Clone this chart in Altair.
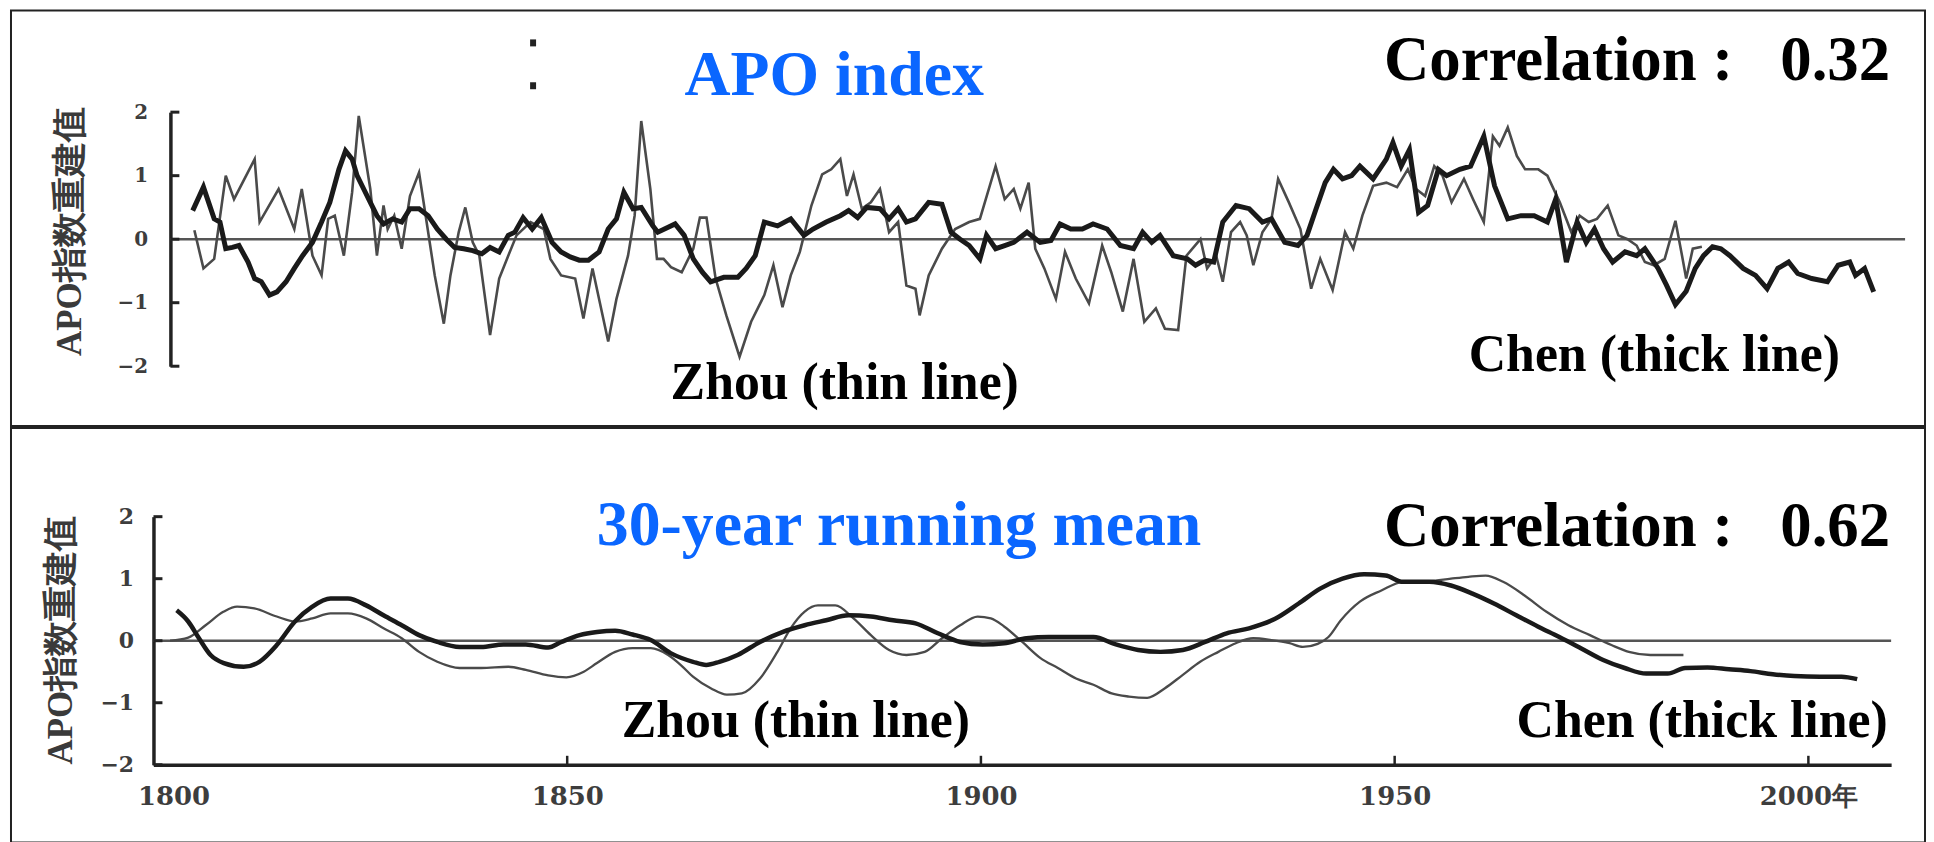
import altair as alt
import pandas as pd

# ---------------- data ----------------
# Top panel: annual APO index reconstructions
top_chen_year = [1802.7, 1804.0, 1805.3, 1806.0, 1806.7, 1807.5, 1808.3, 1809.4, 1810.2, 1811.0, 1812.0, 1812.9,
                 1814.0, 1815.0, 1816.0, 1817.2, 1818.3, 1819.3, 1820.4, 1821.2, 1822.0, 1822.6, 1823.4, 1824.2,
                 1825.0, 1825.8, 1826.9, 1828.0, 1829.0, 1830.1, 1831.2, 1832.3, 1833.4, 1834.4, 1835.5, 1836.6,
                 1837.7, 1838.7, 1839.8, 1840.9, 1841.7, 1842.7, 1843.8, 1844.9, 1846.2, 1847.3, 1848.4, 1849.5,
                 1850.6, 1851.9, 1853.0, 1854.0, 1854.9, 1856.0, 1857.0, 1858.4, 1859.0, 1861.1, 1862.2, 1863.3,
                 1864.4, 1865.4, 1867.0, 1868.7, 1869.7, 1870.8, 1871.9, 1873.5, 1875.1, 1876.7, 1877.8, 1879.4,
                 1881.1, 1882.1, 1883.2, 1884.3, 1885.9, 1887.0, 1888.1, 1889.1, 1890.2, 1891.8, 1893.4, 1894.5,
                 1895.6, 1896.7, 1898.0, 1898.8, 1899.9, 1901.0, 1902.1, 1903.7, 1905.3, 1906.6, 1907.7, 1909.0,
                 1910.4, 1911.7, 1913.4, 1915.0, 1916.6, 1917.7, 1918.8, 1919.8, 1921.4, 1923.1, 1924.1, 1925.2,
                 1926.3, 1927.4, 1929.0, 1930.6, 1932.2, 1933.3, 1934.9, 1936.5, 1937.6, 1938.7, 1939.8, 1940.8,
                 1941.9, 1943.0, 1944.0, 1945.6, 1947.2, 1948.0, 1949.0, 1950.0, 1951.1, 1952.2, 1953.5, 1954.5,
                 1956.1, 1957.4, 1959.0, 1960.3, 1961.9, 1963.5, 1965.1, 1966.7, 1967.7, 1969.0, 1970.3, 1971.4,
                 1972.4, 1973.5, 1974.6, 1976.1, 1977.5, 1978.5, 1980.1, 1981.1, 1982.2, 1983.5, 1984.6, 1985.6,
                 1986.7, 1987.7, 1988.8, 1990.4, 1991.9, 1993.3, 1994.6, 1995.9, 1997.0, 1998.7, 2000.6, 2001.9,
                 2003.3, 2004.0, 2005.1, 2006.2]
top_chen_val = [0.45, 0.82, 0.32, 0.27, -0.15, -0.13, -0.10, -0.36, -0.62, -0.67, -0.88, -0.83,
                -0.67, -0.46, -0.26, -0.05, 0.27, 0.58, 1.10, 1.39, 1.26, 1.00, 0.79, 0.58,
                0.37, 0.24, 0.32, 0.27, 0.48, 0.48, 0.37, 0.16, 0.00, -0.13, -0.15, -0.18,
                -0.23, -0.13, -0.20, 0.06, 0.11, 0.34, 0.16, 0.34, -0.05, -0.20, -0.28, -0.33,
                -0.33, -0.20, 0.16, 0.32, 0.74, 0.48, 0.50, 0.21, 0.11, 0.24, 0.06, -0.31,
                -0.52, -0.67, -0.60, -0.60, -0.46, -0.26, 0.27, 0.21, 0.32, 0.06, 0.16, 0.27,
                0.37, 0.45, 0.34, 0.50, 0.48, 0.32, 0.48, 0.27, 0.32, 0.58, 0.55, 0.11,
                0.00, -0.10, -0.31, 0.06, -0.15, -0.10, -0.05, 0.11, -0.05, -0.02, 0.24, 0.16,
                0.16, 0.24, 0.16, -0.10, -0.15, 0.11, -0.05, 0.06, -0.26, -0.31, -0.41, -0.33,
                -0.36, 0.27, 0.53, 0.48, 0.27, 0.32, -0.05, -0.10, 0.06, 0.48, 0.89, 1.10,
                0.95, 1.00, 1.15, 0.95, 1.26, 1.52, 1.15, 1.41, 0.42, 0.53, 1.10, 1.00,
                1.10, 1.15, 1.62, 0.84, 0.32, 0.37, 0.37, 0.27, 0.63, -0.36, 0.27, -0.05,
                0.16, -0.15, -0.36, -0.20, -0.26, -0.15, -0.46, -0.72, -1.03, -0.82, -0.46, -0.26,
                -0.12, -0.15, -0.26, -0.46, -0.57, -0.78, -0.46, -0.36, -0.54, -0.62, -0.67, -0.41,
                -0.36, -0.57, -0.46, -0.83]

top_zhou_year = [1802.9, 1804.0, 1805.3, 1806.7, 1807.7, 1810.2, 1810.8, 1813.1, 1815.0, 1815.9, 1817.2, 1818.3,
                 1819.1, 1819.9, 1821.0, 1822.0, 1822.8, 1824.2, 1825.0, 1825.8, 1826.3, 1827.1, 1828.0, 1829.0,
                 1830.1, 1830.9, 1832.0, 1833.1, 1833.9, 1834.9, 1835.7, 1836.6, 1837.4, 1838.7, 1839.8, 1840.9,
                 1841.9, 1843.6, 1845.2, 1846.0, 1847.3, 1849.0, 1850.0, 1851.1, 1853.0, 1854.0, 1855.4, 1856.2,
                 1857.0, 1858.1, 1858.9, 1859.7, 1860.6, 1861.9, 1863.3, 1864.1, 1864.9, 1866.0, 1867.3, 1868.9,
                 1870.3, 1871.9, 1873.0, 1874.1, 1875.1, 1876.2, 1877.6, 1878.9, 1880.0, 1881.1, 1881.9, 1882.7,
                 1883.7, 1884.8, 1885.9, 1887.0, 1888.1, 1889.1, 1890.2, 1890.7, 1891.8, 1893.4, 1895.0, 1896.7,
                 1898.0, 1899.9, 1901.0, 1902.1, 1902.9, 1903.9, 1904.7, 1905.8, 1907.2, 1908.3, 1909.6, 1911.2,
                 1912.8, 1913.9, 1915.3, 1916.6, 1917.9, 1919.3, 1920.4, 1922.0, 1923.0, 1924.7, 1925.5, 1926.6,
                 1927.4, 1928.4, 1929.5, 1930.3, 1931.1, 1932.2, 1933.3, 1934.1, 1935.4, 1936.8, 1938.1, 1939.2,
                 1940.7, 1942.2, 1943.2, 1944.3, 1945.6, 1947.2, 1948.5, 1949.8, 1950.8, 1951.9, 1953.0, 1954.0,
                 1955.1, 1956.6, 1957.7, 1959.0, 1960.1, 1960.9, 1961.9, 1963.0, 1964.0, 1965.6, 1966.7, 1968.2,
                 1969.6, 1970.6, 1971.7, 1972.7, 1974.0, 1975.3, 1976.4, 1977.5, 1978.5, 1979.6, 1980.9, 1982.2,
                 1983.0, 1983.5, 1984.3, 1985.4]
top_zhou_val = [0.14, -0.46, -0.31, 1.00, 0.63, 1.26, 0.27, 0.79, 0.16, 0.79, -0.26, -0.57,
                0.32, 0.37, -0.26, 0.74, 1.94, 0.79, -0.26, 0.53, 0.16, 0.37, -0.15, 0.68,
                1.05, 0.37, -0.57, -1.33, -0.57, 0.11, 0.50, -0.05, -0.26, -1.51, -0.62, -0.26,
                0.06, 0.27, 0.16, -0.31, -0.57, -0.62, -1.25, -0.46, -1.61, -0.94, -0.26, 0.37,
                1.86, 0.79, -0.31, -0.31, -0.44, -0.52, -0.15, 0.34, 0.34, -0.62, -1.20, -1.85,
                -1.30, -0.88, -0.41, -1.07, -0.57, -0.20, 0.53, 1.02, 1.10, 1.26, 0.68, 1.02,
                0.48, 0.58, 0.79, 0.11, 0.27, -0.73, -0.78, -1.20, -0.57, -0.15, 0.16, 0.27,
                0.32, 1.15, 0.63, 0.79, 0.48, 0.89, -0.15, -0.46, -0.94, -0.20, -0.62, -1.01,
                -0.10, -0.52, -1.14, -0.31, -1.30, -1.09, -1.41, -1.43, -0.26, 0.00, -0.46, -0.26,
                -0.67, 0.11, 0.27, 0.06, -0.41, 0.11, 0.32, 0.95, 0.58, 0.16, -0.78, -0.31,
                -0.80, 0.11, -0.15, 0.37, 0.84, 0.89, 0.82, 1.10, 0.79, 0.68, 1.15, 1.00,
                0.58, 0.95, 0.63, 0.27, 1.62, 1.47, 1.76, 1.31, 1.10, 1.10, 1.00, 0.58,
                0.11, 0.37, 0.27, 0.32, 0.53, 0.06, 0.00, -0.10, -0.36, -0.41, -0.31, 0.29,
                -0.26, -0.62, -0.15, -0.12]

# Bottom panel: 30-year running means
bot_chen_year = [1802.8, 1804.2, 1805.5, 1806.9, 1808.5, 1810.9, 1812.8, 1814.9, 1817.1, 1819.2, 1821.4, 1823.5,
                 1825.7, 1827.8, 1830.0, 1832.1, 1834.3, 1837.0, 1839.6, 1842.3, 1845.0, 1847.7, 1849.3, 1851.5,
                 1853.6, 1855.8, 1857.9, 1860.1, 1862.5, 1865.2, 1866.8, 1868.4, 1870.6, 1873.3, 1876.0, 1878.7,
                 1881.3, 1884.0, 1886.7, 1889.4, 1892.1, 1894.8, 1897.5, 1900.2, 1902.8, 1905.5, 1908.2, 1910.9,
                 1913.6, 1916.3, 1919.0, 1921.7, 1924.4, 1927.1, 1929.7, 1932.4, 1935.5, 1938.4, 1941.0, 1943.7,
                 1946.3, 1948.9, 1951.0, 1954.2, 1956.8, 1959.4, 1962.0, 1964.7, 1967.3, 1969.9, 1972.5, 1975.2,
                 1977.8, 1980.4, 1983.0, 1985.1, 1987.8, 1990.4, 1993.0, 1995.7, 1998.3, 2001.4, 2004.0, 2005.9]
bot_chen_val = [0.49, 0.31, 0.04, -0.23, -0.36, -0.42, -0.34, -0.07, 0.31, 0.55, 0.68, 0.68,
                0.57, 0.41, 0.25, 0.09, -0.02, -0.10, -0.10, -0.06, -0.06, -0.11, -0.02, 0.09,
                0.14, 0.16, 0.10, 0.01, -0.20, -0.34, -0.39, -0.34, -0.23, -0.02, 0.14, 0.25,
                0.33, 0.41, 0.39, 0.33, 0.28, 0.12, -0.02, -0.06, -0.04, 0.04, 0.06, 0.06,
                0.06, -0.06, -0.15, -0.18, -0.15, -0.02, 0.12, 0.20, 0.35, 0.60, 0.84, 1.00,
                1.07, 1.05, 0.95, 0.95, 0.89, 0.76, 0.60, 0.41, 0.23, 0.06, -0.12, -0.31,
                -0.44, -0.53, -0.53, -0.44, -0.43, -0.46, -0.49, -0.54, -0.57, -0.58, -0.58, -0.62]

bot_zhou_year = [1802.0, 1804.2, 1806.3, 1808.5, 1810.1, 1812.2, 1814.9, 1817.1, 1819.2, 1821.4, 1823.5, 1825.7,
                 1827.8, 1830.0, 1832.1, 1834.3, 1837.0, 1839.6, 1842.9, 1845.0, 1847.7, 1849.9, 1852.0, 1853.6,
                 1855.8, 1857.9, 1860.1, 1862.2, 1863.8, 1865.2, 1867.4, 1869.3, 1871.1, 1873.3, 1875.4, 1877.0,
                 1878.7, 1880.3, 1882.4, 1884.6, 1886.7, 1888.9, 1891.0, 1893.2, 1895.3, 1897.5, 1899.6, 1901.2,
                 1902.8, 1905.0, 1907.2, 1909.3, 1911.5, 1913.6, 1915.8, 1917.9, 1920.1, 1922.2, 1924.4, 1926.5,
                 1928.7, 1930.8, 1932.9, 1935.1, 1937.3, 1938.9, 1940.7, 1942.0, 1943.5, 1945.8, 1948.4, 1951.0,
                 1954.2, 1956.8, 1958.9, 1961.0, 1963.1, 1965.7, 1968.3, 1971.0, 1973.6, 1976.2, 1978.3, 1980.9,
                 1983.0, 1984.9]
bot_zhou_val = [0.00, 0.05, 0.25, 0.47, 0.55, 0.52, 0.39, 0.31, 0.36, 0.44, 0.44, 0.36,
                0.20, 0.04, -0.18, -0.34, -0.44, -0.44, -0.42, -0.47, -0.56, -0.59, -0.50, -0.36,
                -0.18, -0.12, -0.12, -0.23, -0.40, -0.58, -0.77, -0.87, -0.85, -0.61, -0.18, 0.20,
                0.47, 0.57, 0.57, 0.36, 0.09, -0.15, -0.23, -0.18, 0.04, 0.25, 0.39, 0.36,
                0.23, -0.02, -0.28, -0.44, -0.61, -0.71, -0.85, -0.90, -0.92, -0.77, -0.55, -0.34,
                -0.18, -0.04, 0.04, 0.01, -0.04, -0.10, -0.05, 0.06, 0.33, 0.63, 0.81, 0.95,
                0.96, 1.00, 1.03, 1.05, 0.95, 0.73, 0.47, 0.25, 0.09, -0.07, -0.18, -0.23,
                -0.23, -0.23]

y_ticks = [-2, -1, 0, 1, 2]
x_ticks = [1800, 1850, 1900, 1950, 2000]
y_title = "APO指数重建值"
panel_titles = ["APO index", "30-year running mean"]
correlations = ["0.32", "0.62"]
label_zhou = "Zhou (thin line)"
label_chen = "Chen (thick line)"

# ---------------- layout constants ----------------
W = 1921
H1, H2 = 417, 416
TOP_XR, TOP_YR = [160, 1901], [357, 102]
BOT_XR, BOT_YR = [143, 1887], [338, 89]
SERIF = "Liberation Serif"
AXFONT = "DejaVu Serif"
CJKFONT = "Liberation Serif"
BLUE = "#0a66ff"
LABEL_GREY = "#3d3d3d"

one = pd.DataFrame({"k": [0]})


def frame(years, vals):
    return pd.DataFrame({"year": years, "value": vals})


def text_layer(txt, x, y, size, color="#000", align="left", font=SERIF, weight="bold", angle=0, baseline="alphabetic"):
    return alt.Chart(one).mark_text(
        text=txt, font=font, fontSize=size, fontWeight=weight, color=color,
        align=align, baseline=baseline, angle=angle,
    ).encode(x=alt.value(x), y=alt.value(y))


def panel(zhou, chen, xr, yr, height, interp, thin_w, thick_w, yaxis_fs, ylab_pad,
          show_x, title_txt, title_pos, corr_txt, corr_pos, zhou_pos, chen_pos, ytitle_pos, label_fs):
    xs = alt.Scale(domain=[1800, 2010], range=xr, nice=False, zero=False)
    ys = alt.Scale(domain=[-2, 2], range=yr, nice=False, zero=False)
    yaxis = alt.Axis(offset=-xr[0], values=y_ticks, format="d", ticks=False, grid=False, title=None,
                     labelPadding=ylab_pad, labelFontSize=yaxis_fs, labelFont=AXFONT, labelColor=LABEL_GREY,
                     labelFontWeight="bold", domainColor="#222", domainWidth=3.5)
    if show_x:
        xaxis = alt.Axis(offset=-(height - yr[0]), values=x_ticks, format="d", ticks=False, grid=False,
                         title=None, labelPadding=19, labelFontSize=26, labelFont=AXFONT, labelColor=LABEL_GREY,
                         labelFontWeight="bold", labelFlush=True, labelFlushOffset=16,
                         labelExpr="datum.value == 2000 ? '2000年' : datum.label",
                         domainColor="#222", domainWidth=3.5)
    else:
        xaxis = None

    thin = alt.Chart(zhou).mark_line(color="#4a4a4a", strokeWidth=thin_w, interpolate=interp).encode(
        x=alt.X("year:Q", scale=xs, axis=xaxis), y=alt.Y("value:Q", scale=ys, axis=yaxis))
    thick = alt.Chart(chen).mark_line(color="#1a1a1a", strokeWidth=thick_w, interpolate=interp).encode(
        x=alt.X("year:Q", scale=xs, axis=xaxis), y=alt.Y("value:Q", scale=ys, axis=yaxis))
    zero = alt.Chart(one).mark_rule(color="#555", strokeWidth=2.5).encode(
        x=alt.XDatum(1800, scale=xs, axis=xaxis), x2=alt.X2Datum(2010),
        y=alt.YDatum(0, scale=ys, axis=yaxis))
    yt = alt.Chart(pd.DataFrame({"value": y_ticks})).mark_rule(color="#222", strokeWidth=3).encode(
        y=alt.Y("value:Q", scale=ys, axis=yaxis), x=alt.value(xr[0]), x2=alt.value(xr[0] + 9))
    layers = [zero, thin, thick, yt]
    if show_x:
        xt = alt.Chart(pd.DataFrame({"year": x_ticks[1:]})).mark_rule(color="#222", strokeWidth=2.5).encode(
            x=alt.X("year:Q", scale=xs, axis=xaxis), y=alt.value(yr[0] - 9), y2=alt.value(yr[0]))
        layers.append(xt)
    layers += [
        text_layer(title_txt, title_pos[0], title_pos[1], 64, color=BLUE),
        text_layer(corr_txt, corr_pos[0], corr_pos[1], 63, align="right"),
        text_layer(label_zhou, zhou_pos[0], zhou_pos[1], label_fs),
        text_layer(label_chen, chen_pos[0], chen_pos[1], label_fs),
        text_layer(y_title, ytitle_pos[0], ytitle_pos[1], 35, color="#3a3a3a", align="center",
                   font=CJKFONT, weight="bold", angle=270, baseline="middle"),
    ]
    return alt.layer(*layers).properties(width=W, height=height)


top = panel(frame(top_zhou_year, top_zhou_val), frame(top_chen_year, top_chen_val),
            TOP_XR, TOP_YR, H1, "linear", 2.6, 5.0, 20, 23, False,
            panel_titles[0], (676, 85), "Correlation :\u00a0\u00a0\u00a0" + correlations[0], (1886, 70),
            (662, 390), (1463, 362), (59, 222), 52)
# remnant marks of an erased caption at the top of the first panel
top = alt.layer(
    top,
    alt.Chart(one).mark_rule(color="#222", strokeWidth=6).encode(x=alt.value(524), y=alt.value(29), y2=alt.value(36)),
    alt.Chart(one).mark_rule(color="#222", strokeWidth=6).encode(x=alt.value(524), y=alt.value(72), y2=alt.value(79)),
).properties(width=W, height=H1)

bottom = panel(frame(bot_zhou_year, bot_zhou_val), frame(bot_chen_year, bot_chen_val),
               BOT_XR, BOT_YR, H2, "monotone", 2.3, 4.5, 22, 20, True,
               panel_titles[1], (588, 117), "Correlation :\u00a0\u00a0\u00a0" + correlations[1], (1886, 118),
               (613, 310), (1511, 310), (50, 213), 52)

chart = alt.vconcat(top, bottom, spacing=0).properties(
    padding={"left": 2, "top": 0, "right": 0, "bottom": 0}
).configure(background="white").configure_view(stroke="#222", strokeWidth=2)

chart.save("out.html", embed_options={"renderer": "svg", "actions": False})
